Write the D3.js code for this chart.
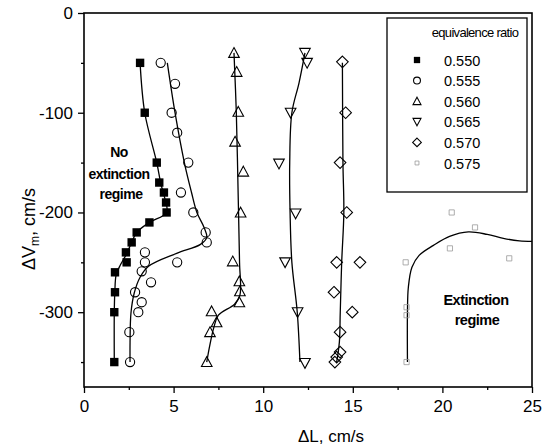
<!DOCTYPE html>
<html>
<head>
<meta charset="utf-8">
<script src="https://cdn.jsdelivr.net/npm/d3@7"></script>
<style>
  body { margin: 0; background: #fff; }
  text { font-family: Arial, "Liberation Sans", sans-serif; fill: #000; }
</style>
</head>
<body>
<svg id="chart" width="555" height="445"></svg>
<script>
// data: [dL, dVm]
var ratios = ['0.550', '0.555', '0.560', '0.565', '0.570', '0.575'];
var xTicks = [0, 5, 10, 15, 20, 25];
var yTicks = [0, -100, -200, -300];

var pts550 = [[3.13,-50],[3.39,-100],[4.06,-150],[4.2,-170],[4.46,-180],[4.58,-190],[4.61,-200],[3.65,-210],[2.94,-220],[2.66,-230],[2.34,-240],[2.38,-250],[1.73,-260],[1.73,-280],[1.69,-300],[1.69,-350]];
var pts555 = [[4.28,-50],[5.08,-71],[4.89,-100],[5.2,-120],[5.82,-150],[5.41,-180],[6.1,-200],[6.79,-220],[6.85,-230],[5.2,-250],[3.4,-240],[3.4,-250],[3.22,-259],[3.74,-270],[2.85,-280],[3.22,-290],[3.03,-300],[2.53,-320],[2.57,-350]];
var pts560 = [[8.37,-40],[8.52,-59],[8.61,-99],[8.43,-129],[8.89,-159],[8.74,-200],[8.3,-249],[8.67,-269],[8.7,-279],[8.67,-290],[7.12,-299],[7.4,-310],[7.03,-320],[6.85,-350]];
var pts565 = [[12.33,-40],[12.45,-50],[11.53,-100],[10.88,-151],[11.81,-201],[11.22,-250],[11.92,-300],[12.33,-351]];
var pts570 = [[14.42,-49],[14.6,-100],[14.29,-150],[14.66,-200],[14.1,-250],[15.4,-250],[13.95,-280],[14.97,-300],[14.29,-320],[14.29,-340],[14.1,-345],[14.0,-350]];
var pts575 = [[20.52,-200],[21.82,-215],[20.42,-236],[23.73,-246],[17.95,-250],[18.0,-295],[18.0,-303],[18.0,-350]];

// fitted curves as drawn
var fit550 = [[3.13,-50],[3.39,-100],[4.06,-150],[4.3,-172],[4.5,-185],[4.61,-200],[3.65,-210],[2.94,-220],[2.66,-230],[2.36,-242],[2.05,-252],[1.8,-262],[1.72,-280],[1.69,-300],[1.69,-350]];
var fit555 = [[4.65,-50],[5.08,-100],[5.6,-150],[6.0,-180],[6.3,-200],[6.7,-215],[6.85,-225],[6.5,-232],[5.17,-241],[3.6,-254],[3.13,-265],[2.8,-281],[2.62,-301],[2.57,-330],[2.57,-350]];
var fit560 = [[8.37,-40],[8.5,-100],[8.6,-180],[8.68,-250],[8.7,-283],[8.4,-292],[7.5,-303],[7.25,-315],[7.0,-335],[6.85,-350]];
var fit565 = [[12.33,-40],[12.0,-70],[11.6,-100],[11.48,-150],[11.5,-200],[11.6,-250],[11.9,-300],[12.05,-350]];
var fit570 = [[14.42,-50],[14.45,-150],[14.5,-200],[14.38,-250],[14.3,-300],[14.25,-330],[14.1,-350]];
var fit575 = [[18.05,-350],[18.05,-300],[18.1,-275],[18.3,-255],[18.7,-243],[19.5,-233],[20.4,-224],[21.45,-219.5],[22.5,-222],[23.4,-226],[24.3,-228.5],[25,-229]];

(function(){
	const PLOT = { left: 84, right: 532, top: 13, bottom: 387 };
	var svg = d3.select('#chart');

	var x = d3.scaleLinear().domain([0, 25]).range([PLOT.left, PLOT.right]);
	var y = d3.scaleLinear().domain([-375, 0]).range([PLOT.bottom, PLOT.top]);

	// marker shapes
	var shapes = {
		square: function(s){ return 'M' + (-s) + ',' + (-s) + 'h' + (2*s) + 'v' + (2*s) + 'h' + (-2*s) + 'Z'; },
		circle: function(s){ return 'M' + s + ',0A' + s + ',' + s + ' 0 1,1 ' + (-s) + ',0A' + s + ',' + s + ' 0 1,1 ' + s + ',0Z'; },
		up: function(s){ return 'M0,' + (-s) + 'L' + s + ',' + (s*0.85) + 'L' + (-s) + ',' + (s*0.85) + 'Z'; },
		down: function(s){ return 'M0,' + s + 'L' + s + ',' + (-s*0.85) + 'L' + (-s) + ',' + (-s*0.85) + 'Z'; },
		diamond: function(s){ return 'M0,' + (-s) + 'L' + s + ',0L0,' + s + 'L' + (-s) + ',0Z'; }
	};

	var series = [
		{ pts: pts550, fit: fit550, shape: 'square', size: 4.2, fill: '#000', stroke: '#000', sw: 0 },
		{ pts: pts555, fit: fit555, shape: 'circle', size: 4.6, fill: 'none', stroke: '#000', sw: 1.1 },
		{ pts: pts560, fit: fit560, shape: 'up', size: 5.3, fill: 'none', stroke: '#000', sw: 1.1 },
		{ pts: pts565, fit: fit565, shape: 'down', size: 5.3, fill: 'none', stroke: '#000', sw: 1.1 },
		{ pts: pts570, fit: fit570, shape: 'diamond', size: 5.8, fill: 'none', stroke: '#000', sw: 1.1 },
		{ pts: pts575, fit: fit575, shape: 'square', size: 2.6, fill: 'none', stroke: '#999', sw: 0.8 }
	];

	// frame
	svg.append('rect')
		.attr('x', PLOT.left).attr('y', PLOT.top)
		.attr('width', PLOT.right - PLOT.left).attr('height', PLOT.bottom - PLOT.top)
		.attr('fill', 'none').attr('stroke', '#000').attr('stroke-width', 1.6);

	// plain hyphen for negatives, like the original
	var fmt = function(d){ return String(d); };

	// X Axis
	svg.append('g')
		.attr('transform', 'translate(0,' + PLOT.bottom + ')')
		.call(d3.axisBottom(x).tickValues(xTicks).tickSize(6).tickPadding(7).tickFormat(fmt));
	svg.append('g')
		.attr('transform', 'translate(0,' + PLOT.bottom + ')')
		.call(d3.axisBottom(x).tickValues([2.5, 7.5, 12.5, 17.5, 22.5]).tickSize(3).tickFormat(''));
	// Y Axis
	svg.append('g')
		.attr('transform', 'translate(' + PLOT.left + ',0)')
		.call(d3.axisLeft(y).tickValues(yTicks).tickSize(6).tickPadding(5).tickFormat(fmt));
	svg.append('g')
		.attr('transform', 'translate(' + PLOT.left + ',0)')
		.call(d3.axisLeft(y).tickValues([-50, -150, -250, -350]).tickSize(3).tickFormat(''));
	svg.selectAll('.domain').remove();
	svg.selectAll('.tick line').attr('stroke', '#000').attr('stroke-width', 1.3);
	svg.selectAll('.tick text')
		.style('font-family', 'Arial, "Liberation Sans", sans-serif')
		.style('font-size', '17px').attr('fill', '#000');

	// axis titles
	svg.append('text')
		.attr('x', 331).attr('y', 442)
		.attr('text-anchor', 'middle')
		.style('font-size', '17px')
		.text('\u0394L, cm/s');
	var yt = svg.append('text')
		.attr('transform', 'translate(35,229) rotate(-90)')
		.attr('text-anchor', 'middle')
		.style('font-size', '18px');
	yt.append('tspan').text('\u0394V');
	yt.append('tspan').attr('dy', 4).style('font-size', '12px').text('m');
	yt.append('tspan').attr('dy', -4).text(', cm/s');

	// curves
	var line = d3.line()
		.x(function(d){ return x(d[0]); })
		.y(function(d){ return y(d[1]); })
		.curve(d3.curveCatmullRom.alpha(0.5));
	svg.selectAll('path.fit')
		.data(series)
		.enter().append('path')
		.attr('class', 'fit')
		.attr('fill', 'none')
		.attr('stroke', '#000')
		.attr('stroke-width', 1.3)
		.attr('d', function(s){ return line(s.fit); });

	// markers
	series.forEach(function(s){
		svg.append('g').selectAll('path')
			.data(s.pts)
			.enter().append('path')
			.attr('transform', function(d){ return 'translate(' + x(d[0]) + ',' + y(d[1]) + ')'; })
			.attr('d', shapes[s.shape](s.size))
			.attr('fill', s.fill)
			.attr('stroke', s.stroke)
			.attr('stroke-width', s.sw);
	});

	// region labels
	var noExt = svg.append('text')
		.attr('text-anchor', 'middle')
		.style('font-size', '14px').style('font-weight', 'bold')
		.style('letter-spacing', '-0.5px');
	noExt.append('tspan').attr('x', 119).attr('y', 157).text('No');
	noExt.append('tspan').attr('x', 119).attr('y', 179).text('extinction');
	noExt.append('tspan').attr('x', 121).attr('y', 199).text('regime');

	var ext = svg.append('text')
		.attr('text-anchor', 'middle')
		.style('font-size', '14.5px').style('font-weight', 'bold')
		.style('letter-spacing', '-0.5px');
	ext.append('tspan').attr('x', 476).attr('y', 305).text('Extinction');
	ext.append('tspan').attr('x', 477).attr('y', 325).text('regime');

	// legend
	var legend = svg.append('g');
	legend.append('rect')
		.attr('x', 387).attr('y', 18).attr('width', 140).attr('height', 174)
		.attr('fill', '#fff').attr('stroke', '#000').attr('stroke-width', 1.3);
	legend.append('text')
		.attr('x', 475).attr('y', 37)
		.attr('text-anchor', 'middle')
		.style('font-size', '13px')
		.style('letter-spacing', '-0.7px')
		.text('equivalence ratio');
	var rows = legend.selectAll('g.row')
		.data(series)
		.enter().append('g')
		.attr('class', 'row')
		.attr('transform', function(d, i){ return 'translate(0,' + (60 + i * 20.6) + ')'; });
	rows.append('path')
		.attr('transform', 'translate(417,0)')
		.attr('d', function(s){ return shapes[s.shape](s.size * 0.75); })
		.attr('fill', function(s){ return s.fill; })
		.attr('stroke', function(s){ return s.stroke; })
		.attr('stroke-width', function(s){ return s.sw; });
	rows.append('text')
		.attr('x', 444).attr('y', 5.5)
		.style('font-size', '14.5px')
		.text(function(d, i){ return ratios[i]; });
})();
</script>
</body>
</html>
